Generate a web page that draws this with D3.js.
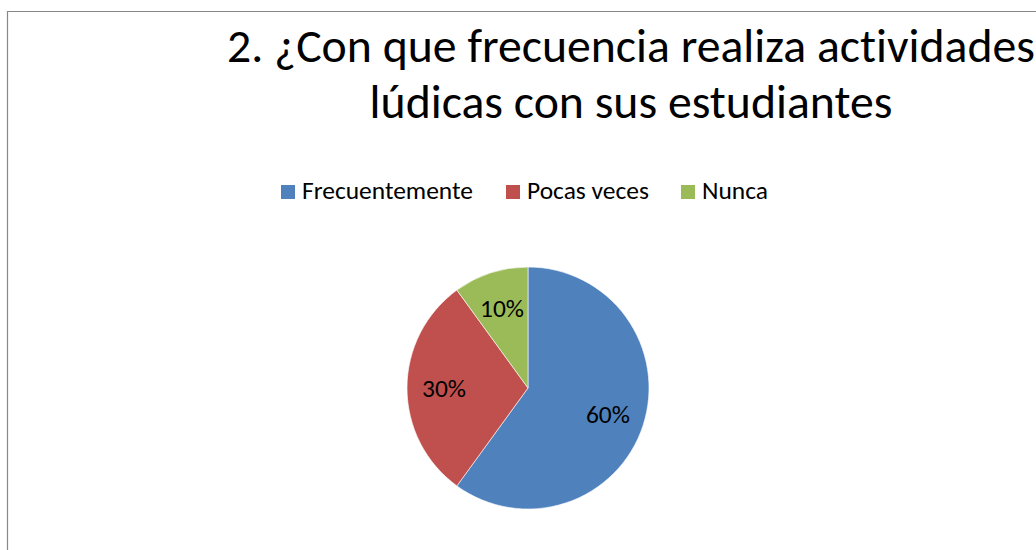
<!DOCTYPE html>
<meta charset="utf-8">
<style>
    text { font-variant-ligatures: none; font-feature-settings: "liga" 0, "dlig" 0, "clig" 0; }
</style>
<body style="margin:0;background:#fff">
<script src="https://d3js.org/d3.v7.min.js"></script>
<script>
    // Data
    var categories = ["Frecuentemente", "Pocas veces", "Nunca"];
    var values = [60, 30, 10];
    var labels = ["60%", "30%", "10%"];
    var colors = ["#4F81BD", "#C0504D", "#9BBB59"];
    var titleLines = ["2. ¿Con que frecuencia realiza actividades", "lúdicas con sus estudiantes"];

    var width = 1036, height = 550;
    var font = "Carlito, Calibri, 'Open Sans', sans-serif";

    var svg = d3.select("body").append("svg")
        .attr("width", width)
        .attr("height", height)
        .style("display", "block");

    // shrink/grow font so a text fits a target width
    function fit(sel, target) {
        var fs = parseFloat(sel.style("font-size"));
        var w = sel.node().getComputedTextLength();
        sel.style("font-size", (fs * target / w) + "px");
    }

    // chart area border (only top and left visible)
    svg.append("path")
        .attr("d", "M7.5," + height + "V11.5H" + width)
        .attr("fill", "none")
        .attr("stroke", "#878787")
        .attr("stroke-width", 1.2);

    // Title
    var title = svg.append("g").attr("font-family", font).attr("fill", "#000");
    var t2 = title.append("text")
        .attr("x", 631).attr("y", 118)
        .attr("text-anchor", "middle")
        .style("font-size", "40px")
        .text(titleLines[1]);
    fit(t2, 523);
    title.append("text")
        .attr("x", 631).attr("y", 62)
        .attr("text-anchor", "middle")
        .style("font-size", t2.style("font-size"))
        .text(titleLines[0]);

    // Legend
    var legendX = [281, 506, 681];
    var legend = svg.append("g").attr("font-family", font);
    var items = legend.selectAll("g").data(categories).enter().append("g")
        .attr("transform", function(d, i) { return "translate(" + legendX[i] + ",185)"; });
    items.append("rect")
        .attr("width", 14).attr("height", 14)
        .attr("fill", function(d, i) { return colors[i]; });
    var ltext = items.append("text")
        .attr("x", 21).attr("y", 14)
        .style("font-size", "20px")
        .attr("fill", "#000")
        .text(function(d) { return d; });
    fit(d3.select(ltext.nodes()[0]), 171);
    ltext.style("font-size", d3.select(ltext.nodes()[0]).style("font-size"));

    // Pie
    var cx = 528, cy = 388, r = 121;
    var pie = d3.pie().sort(null).value(function(d) { return d; });
    var arc = d3.arc().innerRadius(0).outerRadius(r);
    var labelArc = d3.arc().innerRadius(84).outerRadius(84);
    var g = svg.append("g").attr("transform", "translate(" + cx + "," + cy + ")");
    var arcs = pie(values);

    g.selectAll("path").data(arcs).enter().append("path")
        .attr("d", arc)
        .attr("fill", function(d, i) { return colors[i]; })
        .attr("stroke", "#fff")
        .attr("stroke-width", 0.6);

    var pl = g.selectAll("text").data(arcs).enter().append("text")
        .attr("transform", function(d) { return "translate(" + labelArc.centroid(d) + ")"; })
        .attr("text-anchor", "middle")
        .attr("dy", "0.35em")
        .attr("font-family", font)
        .style("font-size", "22px")
        .attr("fill", "#000")
        .text(function(d, i) { return labels[i]; });
    fit(d3.select(pl.nodes()[2]), 44);
    pl.style("font-size", d3.select(pl.nodes()[2]).style("font-size"));
</script>
</body>
